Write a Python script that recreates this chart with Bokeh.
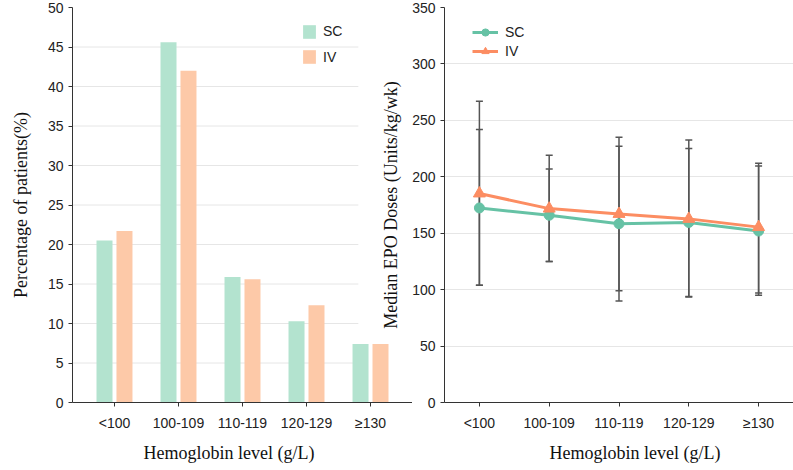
from bokeh.plotting import figure
from bokeh.models import (ColumnDataSource, Range1d, FixedTicker, Legend, LegendItem,
                          Whisker, TeeHead, Title)
from bokeh.layouts import row
from bokeh.embed import file_html
from bokeh.resources import INLINE

# ---------------- data ----------------
categories = ["<100", "100-109", "110-119", "120-129", "≥130"]
pct_sc = [20.5, 45.6, 15.9, 10.3, 7.4]
pct_iv = [21.7, 42.0, 15.6, 12.3, 7.4]
dose_sc = [172.4, 165.9, 158.4, 159.5, 151.9]
dose_iv = [185.2, 171.8, 167.1, 162.7, 155.4]
sc_upper = [242, 207, 227, 225, 209.5]
sc_lower = [104, 125, 99, 93.5, 97]
iv_upper = [267, 219, 235, 232.5, 212]
iv_lower = [104, 125, 90, 94, 95]
pct_ticks = list(range(0, 51, 5))
dose_ticks = list(range(0, 351, 50))
x_title = "Hemoglobin level (g/L)"

# ---------------- style ----------------
SANS = "Liberation Sans"
SERIF = "Liberation Serif"
BAR_SC = "#b3e3cf"
BAR_IV = "#fdc9a8"
LINE_SC = "#66c2a5"
LINE_IV = "#fc8d62"
GRID = "#e6e6e6"
AXIS = "#333333"
ERR = "#555555"

xs = list(range(len(categories)))
labels = {i: c for i, c in enumerate(categories)}


def style_axes(p, yticks, title_offset):
    p.outline_line_color = None
    p.xgrid.visible = False
    p.xaxis.ticker = FixedTicker(ticks=xs)
    p.xaxis.major_label_overrides = labels
    p.yaxis.ticker = FixedTicker(ticks=yticks)
    for ax in (p.xaxis[0], p.yaxis[0]):
        ax.axis_line_color = AXIS
        ax.major_tick_line_color = AXIS
        ax.minor_tick_line_color = None
        ax.major_tick_in = 0
        ax.major_label_text_font = SANS
        ax.major_label_text_font_size = "14px"
        ax.major_label_text_color = "#222222"
        ax.axis_label_text_font = SERIF
        ax.axis_label_text_font_size = "18px"
        ax.axis_label_text_font_style = "normal"
        ax.axis_label_text_color = "#111111"
    p.xaxis.major_tick_out = 4
    p.yaxis.major_tick_out = 4
    p.xaxis.major_label_standoff = 8
    p.yaxis.major_label_standoff = 5
    p.add_layout(Title(text=x_title, align="left", offset=title_offset,
                       text_font=SERIF, text_font_size="18px", text_font_style="normal",
                       text_color="#111111", standoff=14), "below")


def one_item_legend(label, renderers, loc, **kw):
    return Legend(items=[LegendItem(label=label, renderers=renderers)],
                  location=loc, padding=0, margin=0, border_line_color=None,
                  background_fill_alpha=0, label_text_font=SANS,
                  label_text_font_size="14px", label_text_color="#222222", **kw)


# ---------------- left: bar chart ----------------
p1 = figure(width=412, height=470, x_range=Range1d(-0.656, 4.656), y_range=Range1d(0, 50),
            output_backend="svg", toolbar_location=None,
            min_border_left=72, min_border_right=0, min_border_top=7, min_border_bottom=68)
style_axes(p1, pct_ticks, 71)
p1.ygrid.visible = False
p1.yaxis.axis_label = "Percentage of patients(%)"
p1.yaxis.axis_label_standoff = 14

grid_y = pct_ticks[1:-1]
p1.segment(x0=[-0.656] * len(grid_y), x1=[3.81] * len(grid_y), y0=grid_y, y1=grid_y,
           line_color=GRID, line_width=1)

x_sc = [x - 0.156 for x in xs]
x_iv = [x + 0.156 for x in xs]
b_sc = p1.vbar(x=x_sc, top=pct_sc, width=0.25, fill_color=BAR_SC, line_color=None)
b_iv = p1.vbar(x=x_iv, top=pct_iv, width=0.25, fill_color=BAR_IV, line_color=None)

p1.add_layout(one_item_legend("SC", [b_sc], (229, 357), glyph_width=16, glyph_height=17,
                              label_height=28, label_standoff=6))
p1.add_layout(one_item_legend("IV", [b_iv], (229, 337), glyph_width=16, glyph_height=17,
                              label_height=17, label_standoff=6))

# ---------------- right: line chart ----------------
p2 = figure(width=423, height=470, x_range=Range1d(-0.5, 4.5), y_range=Range1d(0, 350),
            output_backend="svg", toolbar_location=None,
            min_border_left=74, min_border_right=0, min_border_top=7, min_border_bottom=68,
            margin=(0, 0, 0, -42))
style_axes(p2, dose_ticks, 105)
p2.border_fill_alpha = 0
p2.background_fill_alpha = 0
p2.ygrid.grid_line_color = GRID
p2.ygrid.ticker = FixedTicker(ticks=dose_ticks[1:])
p2.yaxis.axis_label = "Median EPO Doses (Units/kg/wk)"
p2.yaxis.axis_label_standoff = 8

for up, lo in ((sc_upper, sc_lower), (iv_upper, iv_lower)):
    src = ColumnDataSource(dict(x=xs, upper=up, lower=lo))
    p2.add_layout(Whisker(base="x", upper="upper", lower="lower", source=src,
                          line_color=ERR, line_width=1.5,
                          upper_head=TeeHead(size=7, line_color=ERR, line_width=1.5),
                          lower_head=TeeHead(size=7, line_color=ERR, line_width=1.5)))

l_sc = p2.line(xs, dose_sc, line_color=LINE_SC, line_width=3)
m_sc = p2.scatter(xs, dose_sc, marker="circle", size=10, fill_color=LINE_SC, line_color=LINE_SC)
l_iv = p2.line(xs, dose_iv, line_color=LINE_IV, line_width=3)
m_iv = p2.scatter(xs, dose_iv, marker="triangle", size=12, fill_color=LINE_IV, line_color=LINE_IV)

leg2 = Legend(items=[LegendItem(label="SC", renderers=[l_sc, m_sc]),
                     LegendItem(label="IV", renderers=[l_iv, m_iv])],
              location=(28, 342), glyph_width=26, glyph_height=18, label_height=18,
              spacing=1, padding=0, margin=0, label_standoff=7,
              border_line_color=None, background_fill_alpha=0,
              label_text_font=SANS, label_text_font_size="14px", label_text_color="#222222")
p2.add_layout(leg2)

layout = row(p1, p2)
open("out.html", "w").write(file_html(layout, INLINE))
